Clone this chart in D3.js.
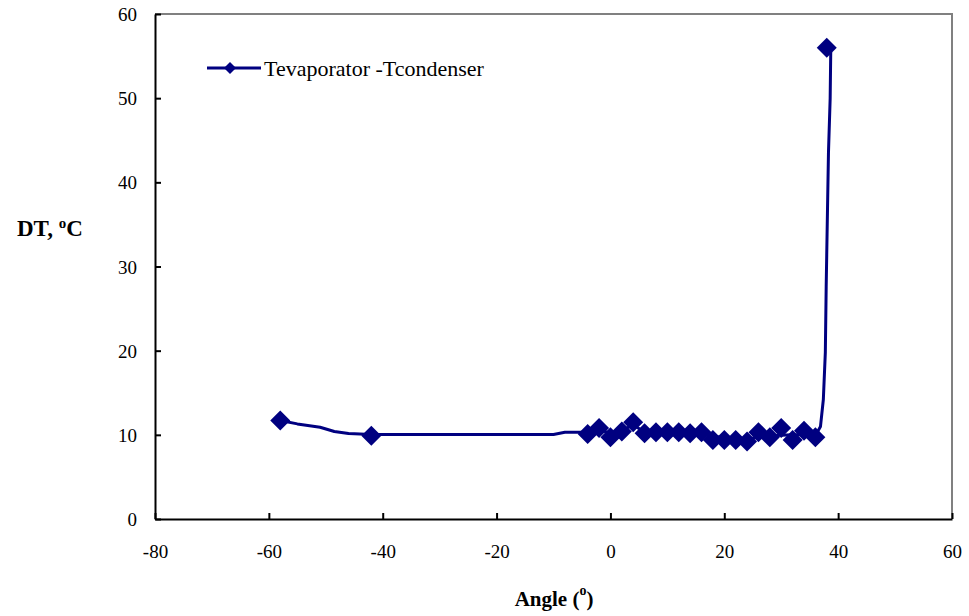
<!DOCTYPE html>
<html>
<head>
<meta charset="utf-8">
<script src="https://cdn.jsdelivr.net/npm/d3@7"></script>
<style>
  body { margin: 0; background: #fff; }
  svg, svg text { font-family: 'Liberation Serif', 'Times New Roman', 'DejaVu Serif', serif; }
</style>
</head>
<body>
<svg id="chart" width="969" height="616"></svg>
<script>
// marker points (angle, DT)
const markerAngle = [-58, -42, -4, -2, 0, 2, 4, 6, 8, 10, 12, 14, 16, 18, 20, 22, 24, 26, 28, 30, 32, 34, 36, 38];
const markerDT = [11.7, 9.9, 10.1, 10.8, 9.7, 10.4, 11.5, 10.2, 10.3, 10.3, 10.3, 10.2, 10.3, 9.4, 9.4, 9.4, 9.2, 10.3, 9.7, 10.8, 9.4, 10.5, 9.7, 56];

// continuous trace behind the markers
const lineAngle = [-58, -55, -51, -48.5, -46, -42, -10, -8, -4, -2, 0, 2, 4, 6, 10, 16, 20, 24, 28, 32, 36, 36.5, 36.9, 37.4, 37.75, 37.9, 38.3, 38.6, 38.7];
const lineDT = [11.7, 11.3, 10.9, 10.4, 10.15, 10.05, 10.05, 10.3, 10.3, 10.6, 10.2, 10.5, 11.2, 10.3, 10.3, 10.2, 9.6, 9.5, 9.9, 10, 10, 10.5, 11, 14.2, 19.8, 27.6, 43.5, 50, 55.5];

const xTicks = [-80, -60, -40, -20, 0, 20, 40, 60];
const yTicks = [0, 10, 20, 30, 40, 50, 60];
const seriesName = "Tevaporator -Tcondenser";

const color = "#000080";
const font = "'Liberation Serif', 'Times New Roman', 'DejaVu Serif', serif";
const svg = d3.select("#chart").attr("font-family", font);
const m = { left: 155, right: 952, top: 14, bottom: 519 };

const x = d3.scaleLinear().domain([-80, 60]).range([m.left, m.right]);
const y = d3.scaleLinear().domain([0, 60]).range([m.bottom, m.top]);

// plot area border (grey top/right)
svg.append("path")
  .attr("d", `M${m.left},${m.top}H${m.right}V${m.bottom}`)
  .attr("fill", "none")
  .attr("stroke", "#808080")
  .attr("stroke-width", 2);

// axes
const xAxis = svg.append("g")
  .attr("transform", `translate(0,${m.bottom})`)
  .call(d3.axisBottom(x).tickValues(xTicks).tickFormat(d => String(d))
    .tickSizeInner(-6).tickSizeOuter(0).tickPadding(26));
const yAxis = svg.append("g")
  .attr("transform", `translate(${m.left},0)`)
  .call(d3.axisLeft(y).tickValues(yTicks).tickFormat(d => String(d))
    .tickSizeInner(-6).tickSizeOuter(0).tickPadding(18));

[xAxis, yAxis].forEach(a => {
  a.attr("font-family", font);
  a.select(".domain").attr("stroke", "#000").attr("stroke-width", 2);
  a.selectAll(".tick line").attr("stroke", "#000").attr("stroke-width", 2);
  a.selectAll(".tick text")
    .attr("fill", "#000")
    .style("font-size", "19px");
});
yAxis.selectAll(".tick text").attr("dy", "0.35em");

// line
const pts = lineAngle.map((a, i) => [a, lineDT[i]]);
svg.append("path")
  .datum(pts)
  .attr("fill", "none")
  .attr("stroke", color)
  .attr("stroke-width", 3)
  .attr("stroke-linejoin", "round")
  .attr("d", d3.line().x(d => x(d[0])).y(d => y(d[1])));

// markers
const diamond = s => `M0,${-s}L${s},0L0,${s}L${-s},0Z`;
svg.append("g")
  .selectAll("path")
  .data(markerAngle.map((a, i) => [a, markerDT[i]]))
  .enter().append("path")
  .attr("transform", d => `translate(${x(d[0])},${y(d[1])})`)
  .attr("d", diamond(10))
  .attr("fill", color);

// legend
const lg = svg.append("g").attr("transform", "translate(207,68)");
lg.append("line").attr("x1", 0).attr("x2", 54).attr("stroke", color).attr("stroke-width", 3);
lg.append("path").attr("transform", "translate(23,0)").attr("d", diamond(6)).attr("fill", color);
lg.append("text").attr("x", 57).attr("dy", "0.35em")
  .style("font-size", "22px").attr("fill", "#000").text(seriesName);

// axis titles
const yt = svg.append("text").attr("x", 17).attr("y", 236)
  .style("font-size", "23px").style("font-weight", "bold").attr("fill", "#000");
yt.append("tspan").text("DT, ");
yt.append("tspan").text("o").style("font-size", "15px").attr("dy", -8);
yt.append("tspan").text("C").attr("dy", 8);

const xt = svg.append("text").attr("x", 554).attr("y", 606)
  .attr("text-anchor", "middle")
  .style("font-size", "21px").style("font-weight", "bold").attr("fill", "#000");
xt.append("tspan").text("Angle (");
xt.append("tspan").text("o").style("font-size", "14px").attr("dy", -11);
xt.append("tspan").text(")").attr("dy", 11);
</script>
</body>
</html>
